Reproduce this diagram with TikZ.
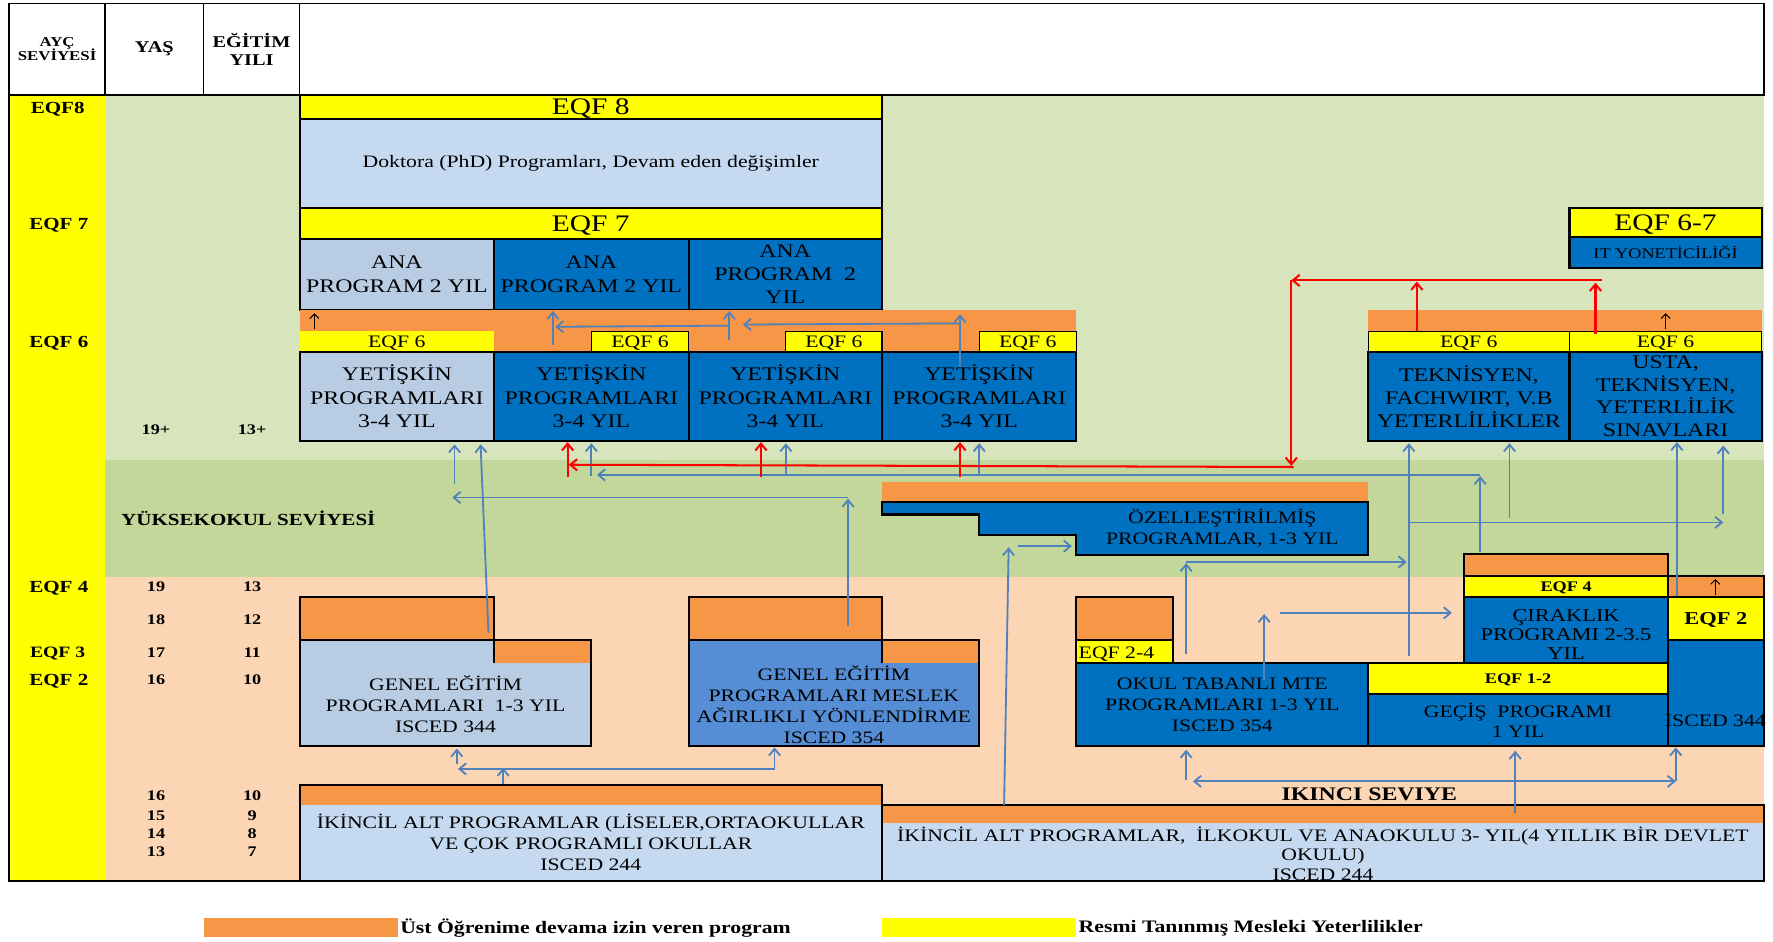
\documentclass[tikz,border=0pt]{standalone}
\usepackage{fontspec}
\setmainfont[FakeStretch=1.24]{Liberation Serif}
\usetikzlibrary{arrows.meta}
\newcommand\fsz[2]{\fontsize{#1}{#2}\selectfont}
\definecolor{eqfyellow}{HTML}{FFFF00}
\definecolor{contorange}{HTML}{F79646}
\definecolor{peach}{HTML}{FCD5B4}
\definecolor{palegreen}{HTML}{D8E4BC}
\definecolor{midgreen}{HTML}{C4D79B}
\definecolor{deepblue}{HTML}{0070C0}
\definecolor{softblue}{HTML}{B8CCE4}
\definecolor{paleblue}{HTML}{C5D9F1}
\definecolor{midblue}{HTML}{558ED5}
\definecolor{flowblue}{HTML}{4F81BD}
\begin{document}
\begin{tikzpicture}[x=1pt,y=-1pt,
  font=\fsz{15.5}{18.5},
  wh/.style 2 args={minimum width=#1pt, minimum height=#2pt},
  box/.style={draw=black, line width=1.8pt, inner sep=0pt, outer sep=0pt, align=center, text=black},
  flat/.style={text depth=0pt},
  thinbox/.style={draw=black, line width=1pt, inner sep=0pt, outer sep=0pt, align=center, fill=eqfyellow, font=\fsz{15.5}{17}, text depth=0pt},
  hcell/.style={draw=black, line width=1.5pt, fill=white, inner sep=0pt, outer sep=0pt, align=center},
  txt/.style={inner sep=0pt, outer sep=0pt, align=center},
  lvl/.style={inner sep=0pt, font=\bfseries\fsz{15}{17}, text depth=0pt},
  num/.style={inner sep=0pt, font=\bfseries\fsz{13}{15}},
  prog/.style={font=\fsz{17}{20.5}},
  swatch/.style={inner sep=0pt, outer sep=0pt},
  flow/.style={draw=flowblue, line width=1.6pt, -{Straight Barb[length=6pt,width=10pt]}},
  bothflow/.style={draw=flowblue, line width=1.6pt, {Straight Barb[length=6pt,width=10pt]}-{Straight Barb[length=6pt,width=10pt]}},
  redflow/.style={draw=red, line width=1.8pt, -{Straight Barb[length=6pt,width=10pt]}},
  upmark/.style={draw=black, line width=0.9pt, -{Straight Barb[length=4pt,width=8pt]}},
]
\useasboundingbox (0,0) rectangle (1568,833);
\fill[white] (0,0) rectangle (1568,833);

% ---------- background bands ----------
\fill[eqfyellow] (8,84) rectangle (93,779);
\fill[palegreen] (93,84) rectangle (1560,407);
\fill[midgreen] (93,407) rectangle (1560,510);
\fill[peach] (93,510) rectangle (1560,779);
\draw[line width=1.2pt] (8,84) -- (8,779) -- (265,779);

% ---------- header row ----------
\node[hcell, wh={85}{81}, font=\bfseries\fsz{12}{13}] (hayc) at (50.5,43.5) {AYÇ\\SEVİYESİ};
\node[hcell, wh={87}{81}, font=\bfseries\fsz{14.5}{16}] (hyas) at (136.5,43.5) {YAŞ};
\node[hcell, wh={85}{81}, font=\bfseries\fsz{14.5}{16}] (hyil) at (222.5,43.5) {EĞİTİM\\YILI};
\node[hcell, wh={1295}{81}] (hmain) at (912.5,43.5) {};

% ---------- level column ----------
\node[lvl] (lv8) at (51,95) {EQF8};
\node[lvl] (lv7) at (52,198) {EQF 7};
\node[lvl] (lv6) at (52,302) {EQF 6};
\node[lvl] (lv4) at (52,519) {EQF 4};
\node[lvl, font=\bfseries\fsz{14}{16}] (lv3) at (51,577) {EQF 3};
\node[lvl] (lv2) at (52,601) {EQF 2};

% ---------- ages and school years ----------
\node[num] (age0) at (138,380) {19+};  \node[num] (yr0) at (223,380) {13+};
\node[num] (age1) at (138,519) {19};   \node[num] (yr1) at (223,519) {13};
\node[num] (age2) at (138,548) {18};   \node[num] (yr2) at (223,548) {12};
\node[num] (age3) at (138,577) {17};   \node[num] (yr3) at (223,577) {11};
\node[num] (age4) at (138,601) {16};   \node[num] (yr4) at (223,601) {10};
\node[num] (age5) at (138,704) {16};   \node[num] (yr5) at (223,704) {10};
\node[num] (age6) at (138,721) {15};   \node[num] (yr6) at (223,721) {9};
\node[num] (age7) at (138,737) {14};   \node[num] (yr7) at (223,737) {8};
\node[num] (age8) at (138,753) {13};   \node[num] (yr8) at (223,753) {7};
\node[lvl, anchor=west] (yuksek) at (107,458) {YÜKSEKOKUL SEVİYESİ};

% ---------- EQF 8 / EQF 7 ----------
\node[box, flat, fill=eqfyellow, wh={515}{21}, font=\fsz{21}{22}] (eqf8) at (522.5,94.5) {EQF 8};
\node[box, fill=paleblue, wh={515}{79}] (phd) at (522.5,144.5) {Doktora (PhD) Programları, Devam eden değişimler};
\node[box, flat, fill=eqfyellow, wh={515}{27}, font=\fsz{21}{22}] (eqf7) at (522.5,197.5) {EQF 7};
\node[box, fill=softblue, wh={172}{63}, prog] (ana1) at (351,242.5) {ANA\\PROGRAM 2 YIL};
\node[box, fill=deepblue, wh={172}{63}, prog] (ana2) at (523,242.5) {ANA\\PROGRAM 2 YIL};
\node[box, fill=deepblue, wh={171}{63}, prog] (ana3) at (694.5,242.5) {ANA\\PROGRAM~~2\\YIL};

% ---------- EQF 6 adult programmes ----------
\fill[contorange] (265,274) rectangle (952,311);
\node[txt, flat, fill=eqfyellow, wh={172}{18}, font=\fsz{15.5}{17}] (e61) at (351,302) {EQF 6};
\node[thinbox, wh={86}{18}] (e62) at (566,302) {EQF 6};
\node[thinbox, wh={85}{18}] (e63) at (737.5,302) {EQF 6};
\node[thinbox, wh={86}{18}] (e64) at (909,302) {EQF 6};
\node[box, fill=softblue, wh={172}{79}, prog] (yet1) at (351,350.5) {YETİŞKİN\\PROGRAMLARI\\3-4 YIL};
\node[box, fill=deepblue, wh={172}{79}, prog] (yet2) at (523,350.5) {YETİŞKİN\\PROGRAMLARI\\3-4 YIL};
\node[box, fill=deepblue, wh={171}{79}, prog] (yet3) at (694.5,350.5) {YETİŞKİN\\PROGRAMLARI\\3-4 YIL};
\node[box, fill=deepblue, wh={172}{79}, prog] (yet4) at (866,350.5) {YETİŞKİN\\PROGRAMLARI\\3-4 YIL};

% ---------- vocational upper block ----------
\node[box, flat, fill=eqfyellow, wh={170}{26}, font=\fsz{21}{22}] (eqf67) at (1473,197) {EQF 6-7};
\node[box, flat, fill=deepblue, wh={170}{27}, font=\fsz{13}{15}] (itman) at (1473,223.5) {IT YONETİCİLİĞİ};
\fill[contorange] (1210,274) rectangle (1558,293);
\node[thinbox, wh={178}{18}] (e6t) at (1299,302) {EQF 6};
\node[thinbox, wh={170}{18}] (e6u) at (1473,302) {EQF 6};
\node[box, fill=deepblue, wh={178}{79}, prog] (tek) at (1299,350.5) {TEKNİSYEN,\\FACHWIRT, V.B\\YETERLİLİKLER};
\node[box, fill=deepblue, wh={170}{79}, font=\fsz{17}{20}] (usta) at (1473,350.5) {USTA,\\TEKNİSYEN,\\YETERLİLİK\\SINAVLARI};

% ---------- specialised programmes (stepped block) ----------
\fill[contorange] (780,426) rectangle (1210,444);
\draw[fill=deepblue, line width=1.8pt] (780,444) -- (1210,444) -- (1210,491) -- (952,491) -- (952,473) -- (866,473) -- (866,455) -- (780,455) -- cycle;
\node[txt] (ozel) at (1081,467) {ÖZELLEŞTİRİLMİŞ\\PROGRAMLAR, 1-3 YIL};

% ---------- general education ----------
\node[box, fill=contorange, wh={172}{38}] (gen1top) at (351,547) {};
\node[box, fill=softblue, wh={258}{94}] (gen1) at (394,613) {};
\fill[contorange] (437,567) rectangle (522,586);
\draw[line width=1.8pt] (437,566) -- (437,586);
\node[txt] (gen1txt) at (394,622.5) {GENEL EĞİTİM\\PROGRAMLARI~~1-3 YIL\\ISCED 344};

\node[box, fill=contorange, wh={171}{38}] (gen2top) at (694.5,547) {};
\node[box, fill=midblue, wh={257}{94}] (gen2) at (737.5,613) {};
\fill[contorange] (780,567) rectangle (865,586);
\draw[line width=1.8pt] (780,566) -- (780,586);
\node[txt] (gen2txt) at (737.5,623) {GENEL EĞİTİM\\PROGRAMLARI MESLEK\\AĞIRLIKLI YÖNLENDİRME\\ISCED 354};

% ---------- school based VET ----------
\node[box, fill=contorange, wh={85}{38}] (okultop) at (994.5,547) {};
\node[box, fill=eqfyellow, wh={85}{20}] (eqf24) at (994.5,576) {};
\node[txt, flat, anchor=west] (eqf24txt) at (954,577) {EQF 2-4};
\node[box, fill=deepblue, wh={258}{74}] (okul) at (1081,623) {OKUL TABANLI MTE\\PROGRAMLARI 1-3 YIL\\ISCED 354};

% ---------- apprenticeship and transition ----------
\node[box, fill=contorange, wh={180}{19}] (cirtop) at (1385,499.5) {};
\node[box, flat, fill=eqfyellow, wh={180}{19}, font=\bfseries\fsz{13}{15}] (eqf4) at (1385,518.5) {EQF 4};
\node[box, fill=deepblue, wh={180}{58}] (cir) at (1385,557) {};
\node[txt, font=\fsz{16}{17}] (cirtxt) at (1385,561) {ÇIRAKLIK\\PROGRAMI 2-3.5\\YIL};
\node[box, flat, fill=eqfyellow, wh={265}{28}, font=\bfseries\fsz{13}{15}] (eqf12) at (1342.5,600) {EQF 1-2};
\node[box, fill=deepblue, wh={265}{46}] (gecis) at (1342.5,637) {GEÇİŞ~~PROGRAMI\\1 YIL};
\node[box, fill=contorange, wh={85}{19}] (eqf2top) at (1517.5,518.5) {};
\node[box, flat, fill=eqfyellow, wh={85}{38}, font=\bfseries\fsz{16}{17}] (eqf2) at (1517.5,547) {EQF 2};
\node[box, fill=deepblue, wh={85}{94}] (isced) at (1517.5,613) {};
\node[txt] (iscedtxt) at (1517,637) {ISCED 344};

% ---------- lower secondary ----------
\node[box, fill=paleblue, wh={515}{85}] (iki1) at (522.5,736.5) {};
\fill[contorange] (266,695) rectangle (779,712);
\node[txt] (iki1txt) at (522.5,745) {İKİNCİL ALT PROGRAMLAR (LİSELER,ORTAOKULLAR\\VE ÇOK PROGRAMLI OKULLAR\\ISCED 244};
\node[box, fill=paleblue, wh={780}{67}] (iki2) at (1170,745.5) {};
\fill[contorange] (781,713) rectangle (1559,728);
\node[txt, font=\fsz{15.5}{17.5}] (iki2txt) at (1170,755) {İKİNCİL ALT PROGRAMLAR,~~İLKOKUL VE ANAOKULU 3- YIL(4 YILLIK BİR DEVLET\\OKULU)\\ISCED 244};
\node[txt, flat, font=\bfseries\fsz{17}{19}] (ikinci) at (1211,702) {IKINCI SEVIYE};

% ---------- legend ----------
\node[swatch, fill=contorange, wh={172}{17}] (keyor) at (266,820.5) {};
\node[txt, anchor=west, font=\bfseries\fsz{15.5}{17}] (keyortxt) at (354,821) {Üst Öğrenime devama izin veren program};
\node[swatch, fill=eqfyellow, wh={172}{17}] (keyye) at (866,820.5) {};
\node[txt, anchor=west, font=\bfseries\fsz{15.5}{17}] (keyyetxt) at (954,821) {Resmi Tanınmış Mesleki Yeterlilikler};

% ---------- connector end points ----------
\coordinate (b1s) at (432,560);   \coordinate (b1e) at (425,393);
\coordinate (b2s) at (750,554);   \coordinate (b2e) at (750,441);
\coordinate (b3s) at (750,440);   \coordinate (b3e) at (400,440);
\coordinate (b4s) at (402,428);   \coordinate (b4e) at (402,393);
\coordinate (b5s) at (1309,488);  \coordinate (b5e) at (1309,421);
\coordinate (b6s) at (1309,420);  \coordinate (b6e) at (528,420);
\coordinate (b7s) at (523,421);   \coordinate (b7e) at (523,392);
\coordinate (b8s) at (695,421);   \coordinate (b8e) at (695,392);
\coordinate (b9s) at (866,421);   \coordinate (b9e) at (866,392);
\coordinate (b10s) at (489,305);  \coordinate (b10e) at (489,275);
\coordinate (b11s) at (645,301);  \coordinate (b11e) at (645,275);
\coordinate (b12s) at (849,325);  \coordinate (b12e) at (849,278);
\coordinate (b13s) at (849,286);  \coordinate (b13e) at (657,287);
\coordinate (b14s) at (645,288);  \coordinate (b14e) at (491,289);
\coordinate (b15s) at (445,693);  \coordinate (b15e) at (445,679);
\coordinate (b16s) at (685,680);  \coordinate (b16e) at (405,680);
\coordinate (b17s) at (404,676);  \coordinate (b17e) at (404,662);
\coordinate (b18s) at (685,681);  \coordinate (b18e) at (685,661);
\coordinate (b19s) at (888,712);  \coordinate (b19e) at (892,484);
\coordinate (b20s) at (900,483);  \coordinate (b20e) at (948,483);
\coordinate (b21s) at (1049,578); \coordinate (b21e) at (1049,498);
\coordinate (b22s) at (1049,497); \coordinate (b22e) at (1244,497);
\coordinate (b23s) at (1118,601); \coordinate (b23e) at (1118,543);
\coordinate (b24s) at (1132,542); \coordinate (b24e) at (1284,542);
\coordinate (b25s) at (1246,580); \coordinate (b25e) at (1246,392);
\coordinate (b26s) at (1246,462); \coordinate (b26e) at (1524,462);
\coordinate (b27s) at (1335,458); \coordinate (b27e) at (1335,392);
\coordinate (b28s) at (1524,455); \coordinate (b28e) at (1524,394);
\coordinate (b29s) at (1483,527); \coordinate (b29e) at (1483,391);
\coordinate (b30s) at (1049,690); \coordinate (b30e) at (1049,663);
\coordinate (b31s) at (1055,691); \coordinate (b31e) at (1482,691);
\coordinate (b32s) at (1482,691); \coordinate (b32e) at (1482,661);
\coordinate (b33s) at (1340,719); \coordinate (b33e) at (1340,664);
\coordinate (r1s) at (1253,293);  \coordinate (r1e) at (1253,249);
\coordinate (r2s) at (1411,295);  \coordinate (r2e) at (1411,250);
\coordinate (r3s) at (1417,248);  \coordinate (r3e) at (1142,248);
\coordinate (r4s) at (1142,248);  \coordinate (r4e) at (1142,412);
\coordinate (r5s) at (1144,413);  \coordinate (r5e) at (503,411);
\coordinate (r6s) at (502,422);   \coordinate (r6e) at (502,391);
\coordinate (r7s) at (673,422);   \coordinate (r7e) at (673,391);
\coordinate (r8s) at (849,422);   \coordinate (r8e) at (849,391);
\coordinate (k1s) at (278,291);   \coordinate (k1e) at (278,277);
\coordinate (k2s) at (1473,291);  \coordinate (k2e) at (1473,277);
\coordinate (k3s) at (1517,526);  \coordinate (k3e) at (1517,512);

% ---------- progression connectors ----------
\foreach \a in {b1,b2,b3,b4,b5,b6,b7,b8,b9,b10,b11,b12,b13,b14,b15,b16,b17,b18,b19,b20,b21,b22,b23,b24,b25,b26,b27,b28,b29,b30,b32,b33}
  \draw[flow] (\a s) -- (\a e);
\draw[bothflow] (b31s) -- (b31e);
\foreach \a in {r1,r2,r3,r4,r5,r6,r7,r8}
  \draw[redflow] (\a s) -- (\a e);
\foreach \a in {k1,k2,k3}
  \draw[upmark] (\a s) -- (\a e);
\end{tikzpicture}
\end{document}
